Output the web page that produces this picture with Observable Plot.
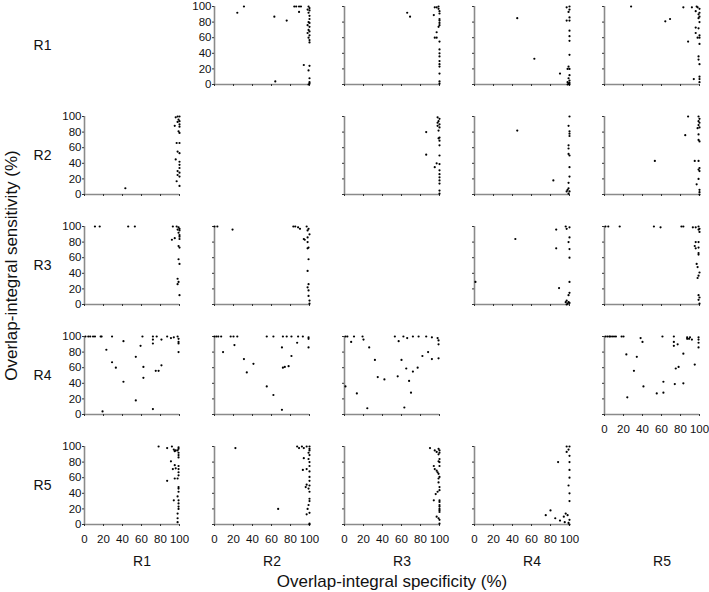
<!DOCTYPE html>
<html>
<head>
<meta charset="utf-8">
<script src="https://cdn.jsdelivr.net/npm/d3@7"></script>
<script src="https://cdn.jsdelivr.net/npm/@observablehq/plot@0.6"></script>
<style>
  html, body { margin: 0; padding: 0; background: #fff; }
  #chart { width: 709px; height: 592px; }
</style>
</head>
<body>
<div id="chart"></div>
<script>
const regions = ["R1", "R2", "R3", "R4", "R5"];
const tickValues = [0, 20, 40, 60, 80, 100];
const yTitle = "Overlap-integral sensitivity (%)";
const xTitle = "Overlap-integral specificity (%)";

// [specificity, sensitivity] pairs; name = row region _ column region
const R1_R2 = [[24,92],[31,100],[63,87],[76,82],[84,100],[86,100],[89,100],[89,93],[91,100],[64,4],[94,25],
  [99,100],[100,98],[98,96],[100,95],[99,92],[100,88],[100,84],[99,80],[100,79],[98,76],[100,74],[99,70],[100,68],[98,66],[100,63],[99,60],[100,57],[100,54],[100,24],[99,18],[100,8],[100,3],[100,1],[99,0]];
const R1_R3 = [[66,92],[69,87],[95,99],[97,99],[99,100],[99,97],[100,94],[100,91],[94,89],[100,84],[100,82],[100,79],[100,76],[99,74],[97,67],[95,60],[97,60],[100,55],[100,45],[100,40],[100,36],[100,30],[100,26],[100,23],[100,14],[100,4],[100,1]];
const R1_R4 = [[45,85],[63,33],[90,14],[97,99],[100,100],[100,96],[99,93],[97,82],[100,82],[100,86],[100,69],[100,62],[100,56],[100,38],[99,23],[98,20],[100,20],[100,12],[99,8],[100,5],[98,3],[100,2],[99,1],[98,0],[100,0]];
const R1_R5 = [[28,100],[64,81],[69,84],[83,99],[92,99],[88,55],[96,73],[99,72],[96,66],[100,63],[98,60],[100,60],[100,52],[99,36],[99,32],[100,26],[100,10],[100,7],[100,3],[94,7],[97,100],[98,99],[100,97],[96,94],[100,92],[99,90],[100,87],[99,85],[100,80]];
const R2_R1 = [[43,8],[95,88],[96,99],[98,100],[100,100],[99,96],[100,94],[98,93],[100,90],[100,87],[99,81],[100,79],[97,66],[100,66],[98,55],[100,53],[96,45],[100,42],[100,38],[100,34],[98,30],[100,28],[98,25],[100,23],[97,17],[100,11]];
const R2_R3 = [[86,80],[86,51],[95,35],[97,40],[98,99],[100,97],[99,94],[98,92],[100,90],[98,88],[100,86],[99,82],[100,73],[99,72],[100,69],[100,63],[100,50],[100,39],[100,31],[100,26],[100,22],[100,18],[100,14],[100,5],[100,1]];
const R2_R4 = [[45,82],[83,18],[100,100],[99,88],[100,81],[100,78],[100,75],[99,63],[99,59],[99,52],[100,50],[100,35],[100,23],[99,15],[99,8],[98,6],[97,4],[100,4],[99,1]];
const R2_R5 = [[88,100],[85,76],[53,43],[95,43],[99,100],[100,97],[99,94],[100,92],[99,89],[100,86],[98,85],[99,77],[99,70],[100,68],[99,43],[100,34],[99,32],[100,30],[99,20],[97,13],[100,6],[100,3],[100,0]];
const R3_R1 = [[11,100],[16,100],[46,100],[53,100],[93,100],[92,83],[95,85],[97,100],[99,99],[100,97],[98,96],[100,95],[99,92],[100,89],[100,87],[100,84],[99,75],[100,73],[99,58],[100,52],[98,33],[99,29],[98,26],[100,12]];
const R3_R2 = [[0,100],[3,100],[19,96],[83,100],[85,100],[88,99],[90,97],[94,84],[95,83],[98,80],[97,100],[99,97],[98,95],[100,90],[98,86],[99,73],[98,72],[99,58],[98,43],[99,26],[98,22],[99,18],[99,11],[100,5],[100,1]];
const R3_R4 = [[1,29],[43,84],[86,96],[86,72],[89,21],[96,100],[97,97],[100,99],[100,86],[99,80],[100,71],[100,60],[100,29],[100,15],[99,12],[97,5],[96,3],[99,3],[100,2],[98,1],[97,0]];
const R3_R5 = [[1,100],[4,100],[16,100],[52,100],[59,99],[81,100],[83,100],[93,99],[96,99],[99,100],[100,97],[99,96],[100,93],[96,80],[99,80],[95,75],[96,72],[99,73],[99,66],[99,64],[97,52],[98,48],[100,41],[99,37],[98,34],[99,12],[100,9],[99,6],[100,1]];
const R4_R1 = [[1,100],[4,100],[6,100],[9,100],[11,100],[17,100],[18,100],[29,100],[23,83],[29,67],[33,60],[41,94],[41,42],[19,4],[54,74],[54,18],[59,88],[61,100],[62,61],[62,47],[72,100],[76,100],[72,96],[72,91],[75,56],[78,56],[81,96],[81,63],[72,7],[87,100],[91,98],[94,99],[98,100],[99,97],[99,93],[99,91],[99,80]];
const R4_R2 = [[0,100],[2,100],[4,100],[7,100],[17,100],[20,100],[24,100],[9,80],[21,89],[31,71],[34,54],[41,65],[55,100],[62,100],[55,36],[62,25],[72,100],[76,100],[81,100],[71,86],[71,6],[72,60],[74,61],[78,62],[81,75],[87,92],[88,100],[93,100],[99,99],[99,97],[99,86]];
const R4_R3 = [[1,100],[3,100],[10,100],[19,100],[7,93],[20,96],[26,86],[32,70],[35,48],[42,45],[1,36],[13,27],[24,8],[53,100],[57,94],[62,100],[66,98],[72,100],[78,100],[86,100],[92,99],[98,98],[99,95],[99,90],[56,49],[60,70],[65,59],[68,43],[72,55],[77,60],[82,75],[88,80],[92,71],[99,72],[63,9],[70,28]];
const R4_R5 = [[1,100],[3,100],[5,100],[6,100],[8,100],[10,100],[12,100],[18,100],[20,100],[38,98],[40,93],[23,77],[34,74],[31,56],[41,36],[24,22],[55,27],[62,42],[62,28],[61,100],[73,100],[73,93],[73,88],[77,90],[75,59],[78,61],[74,39],[83,78],[83,40],[87,99],[90,99],[87,97],[89,97],[92,96],[99,99],[99,96],[99,92],[99,86],[95,64]];
const R5_R1 = [[78,100],[87,98],[92,100],[94,96],[96,95],[95,94],[98,95],[99,99],[99,97],[99,92],[99,89],[99,86],[91,81],[95,76],[93,71],[96,72],[99,75],[99,71],[99,67],[99,63],[98,59],[95,59],[87,56],[99,48],[99,46],[99,42],[98,36],[94,31],[99,31],[99,27],[99,23],[99,20],[98,14],[98,8],[98,3]];
const R5_R2 = [[22,98],[67,20],[87,100],[89,98],[92,100],[94,98],[97,100],[100,100],[100,97],[100,95],[99,92],[100,89],[99,84],[100,80],[100,75],[94,85],[93,70],[97,71],[100,68],[100,61],[100,56],[100,50],[99,46],[100,42],[100,33],[100,30],[99,25],[98,20],[100,15],[100,1],[100,0],[96,48],[97,51],[97,13]];
const R5_R3 = [[90,98],[95,95],[97,93],[99,97],[100,95],[99,90],[100,92],[100,84],[99,81],[100,80],[100,75],[94,75],[95,71],[97,69],[98,67],[99,65],[100,61],[99,59],[99,54],[100,48],[100,44],[98,42],[96,39],[100,31],[94,31],[100,29],[100,25],[100,23],[100,20],[100,18],[100,16],[97,10],[99,8],[100,6],[100,1]];
const R5_R4 = [[97,100],[99,96],[100,100],[97,93],[88,80],[100,88],[100,80],[100,70],[100,60],[99,50],[100,40],[100,30],[75,12],[80,18],[85,8],[90,5],[95,3],[98,12],[100,6],[99,2],[100,0],[96,14],[94,10]];

const panelData = {
  "R1|R2": R1_R2, "R1|R3": R1_R3, "R1|R4": R1_R4, "R1|R5": R1_R5,
  "R2|R1": R2_R1, "R2|R3": R2_R3, "R2|R4": R2_R4, "R2|R5": R2_R5,
  "R3|R1": R3_R1, "R3|R2": R3_R2, "R3|R4": R3_R4, "R3|R5": R3_R5,
  "R4|R1": R4_R1, "R4|R2": R4_R2, "R4|R3": R4_R3, "R4|R5": R4_R5,
  "R5|R1": R5_R1, "R5|R2": R5_R2, "R5|R3": R5_R3, "R5|R4": R5_R4
};

const points = [];
const panels = [];
for (const [key, arr] of Object.entries(panelData)) {
  const [row, col] = key.split("|");
  panels.push({row, col});
  for (const [x, y] of arr) points.push({row, col, x, y});
}
const firstCol = row => regions.find(c => c !== row);
const lastRow = col => [...regions].reverse().find(r => r !== col);
const tickData = panels.flatMap(p => tickValues.map(v => ({...p, v})));
const yLabelData = tickData.filter(d => d.col === firstCol(d.row));
const xLabelData = tickData.filter(d => d.row === lastRow(d.col));
const fmt = d => String(typeof d === "object" && d !== null ? d.v : d);

const axisColor = "#8a8a8a";

const chart = Plot.plot({
  width: 709,
  height: 592,
  marginLeft: 82,
  marginRight: 9,
  marginTop: 5,
  marginBottom: 66,
  style: {fontFamily: "'Liberation Sans', Arial, sans-serif", color: "#111", background: "#fff"},
  fx: {domain: regions, paddingInner: 0.273, paddingOuter: 0},
  fy: {domain: regions, paddingInner: 0.29, paddingOuter: 0},
  x: {domain: [0, 100], label: null},
  y: {domain: [0, 100], label: null},
  marks: [
    Plot.ruleY(panels, {fx: "col", fy: "row", y: () => 0, stroke: axisColor, strokeWidth: 1.6}),
    Plot.ruleX(panels, {fx: "col", fy: "row", x: () => 0, stroke: axisColor, strokeWidth: 1.6}),
    Plot.axisX(tickData, {fx: "col", fy: "row", x: "v", facetAnchor: null, fill: "none", stroke: "#333", tickSize: 2, label: null}),
    Plot.axisY(tickData, {fx: "col", fy: "row", y: "v", facetAnchor: null, fill: "none", stroke: "#333", tickSize: 2, label: null}),
    Plot.axisX(xLabelData, {fx: "col", fy: "row", x: "v", text: fmt, tickFormat: fmt, facetAnchor: null, tickSize: 0, tickPadding: 10, fontSize: 11.5, label: null}),
    Plot.axisY(yLabelData, {fx: "col", fy: "row", y: "v", text: fmt, tickFormat: fmt, facetAnchor: null, tickSize: 0, tickPadding: 3, fontSize: 11.5, label: null}),
    Plot.axisFx({anchor: "bottom", tickSize: 0, tickPadding: 32, fontSize: 14, dx: 10, label: null}),
    Plot.axisFx({anchor: "bottom", tickSize: 0, tickFormat: () => "", fontSize: 17, label: xTitle, labelAnchor: "center", labelOffset: 62}),
    Plot.axisFy({anchor: "left", tickSize: 0, tickPadding: 33, fontSize: 14, label: null}),
    Plot.axisFy({anchor: "left", tickSize: 0, tickFormat: () => "", fontSize: 17, label: yTitle, labelAnchor: "center", labelOffset: 80}),
    Plot.dot(points, {fx: "col", fy: "row", x: "x", y: "y", r: 1.1, fill: "#000", stroke: null})
  ]
});
document.getElementById("chart").appendChild(chart);
</script>
</body>
</html>
